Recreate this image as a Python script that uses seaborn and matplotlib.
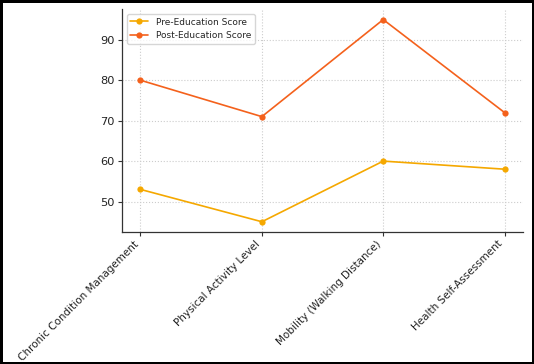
import pandas as pd
import matplotlib.pyplot as plt
import seaborn as sns

# chart data
categories = ["Chronic Condition Management", "Physical Activity Level",
              "Mobility (Walking Distance)", "Health Self-Assessment"]
pre_scores = [53, 45, 60, 58]
post_scores = [80, 71, 95, 72]

df = pd.DataFrame({
    "Category": categories * 2,
    "Score": pre_scores + post_scores,
    "Series": ["Pre-Education Score"] * 4 + ["Post-Education Score"] * 4,
})

sns.set_style("ticks")
plt.rcParams['font.family'] = ['DejaVu Sans']

fig = plt.figure(figsize=(5.34, 3.64), dpi=100, edgecolor='black', linewidth=2.5)
ax = fig.add_axes([0.229, 0.363, 0.75, 0.611])

sns.lineplot(data=df, x="Category", y="Score", hue="Series", marker="o",
             palette=["#f5a800", "#f4611c"], markersize=4.5, markeredgewidth=0,
             linewidth=1.2, ax=ax, sort=False)

ax.grid(True, linestyle=':', color='#cccccc', linewidth=0.8)
sns.despine(ax=ax)
for s in ["left", "bottom"]:
    ax.spines[s].set_color("#333333")
    ax.spines[s].set_linewidth(0.9)
ax.set_xlabel("")
ax.set_ylabel("")
ax.set_yticks([50, 60, 70, 80, 90])
ax.tick_params(axis='both', length=3, color='#333333', labelcolor='#222222')
ax.tick_params(axis='y', labelsize=8.2, pad=2.5)
ax.tick_params(axis='x', labelsize=7.5, pad=2)
plt.setp(ax.get_xticklabels(), rotation=45, ha='right')
ax.legend(loc='upper left', fontsize=6.5, frameon=True, framealpha=0.8)

fig.savefig("out.png", dpi=100, edgecolor=fig.get_edgecolor())
